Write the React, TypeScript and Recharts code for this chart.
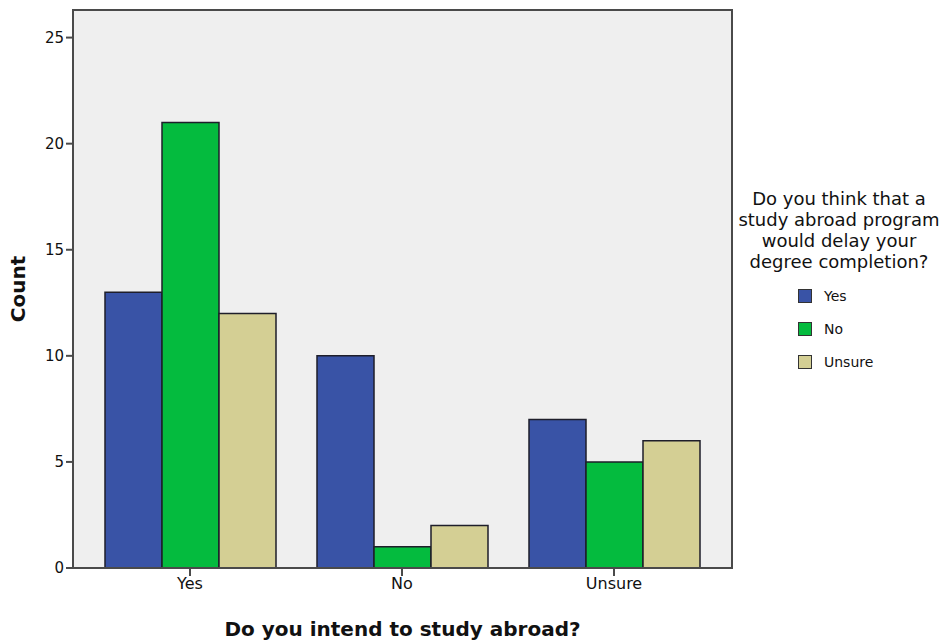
import { BarChart, Bar, XAxis, YAxis, CartesianGrid } from "recharts";

const intents = ["Yes", "No", "Unsure"];
const delayYes = [13, 10, 7];
const delayNo = [21, 1, 5];
const delayUnsure = [12, 2, 6];
const yTicks = [0, 5, 10, 15, 20, 25];

const legendTitle = [
  "Do you think that a",
  "study abroad program",
  "would delay your",
  "degree completion?",
];
const seriesNames = ["Yes", "No", "Unsure"];
const seriesKeys = ["yes", "no", "unsure"];
const seriesColors = ["#3953a6", "#04bb3e", "#d4cf94"];

const data = intents.map((cat, i) => ({
  cat,
  yes: delayYes[i],
  no: delayNo[i],
  unsure: delayUnsure[i],
}));

const FONT = "'DejaVu Sans', Verdana, sans-serif";
const AXIS = "#4a4a4a";

function LegendBox() {
  return (
    <div style={{ position: "absolute", left: 736, top: 188, width: 206, fontFamily: FONT, color: "#111" }}>
      <div style={{ textAlign: "center", fontSize: 18, lineHeight: "21px" }}>
        {legendTitle.map((t) => (
          <div key={t}>{t}</div>
        ))}
      </div>
      <div style={{ marginTop: 7, marginLeft: 62 }}>
        {seriesNames.map((name, i) => (
          <div key={name} style={{ display: "flex", alignItems: "center", height: 33, fontSize: 14 }}>
            <span
              style={{
                width: 12,
                height: 12,
                background: seriesColors[i],
                border: "1.5px solid #333",
                marginRight: 12,
              }}
            />
            {name}
          </div>
        ))}
      </div>
    </div>
  );
}

export default function App() {
  return (
    <div style={{ position: "absolute", left: 0, top: 0, width: 951, height: 642, background: "#fff" }}>
      <BarChart
        width={951}
        height={642}
        data={data}
        margin={{ top: 10, right: 219, bottom: 0, left: 0 }}
        barCategoryGap={21}
        barGap={0}
      >
        <CartesianGrid horizontal={false} vertical={false} fill="#efefef" />
        <XAxis
          dataKey="cat"
          height={74}
          padding={{ left: 11, right: 12 }}
          tickLine={{ stroke: AXIS, strokeWidth: 2 }}
          tickSize={8}
          axisLine={{ stroke: AXIS, strokeWidth: 2 }}
          tick={{ fill: "#111", fontSize: 16, fontFamily: FONT }}
          label={{
            value: "Do you intend to study abroad?",
            position: "insideBottom",
            offset: 6,
            style: { fill: "#111", fontSize: 20, fontWeight: "bold", fontFamily: FONT },
          }}
        />
        <YAxis
          width={73}
          domain={[0, 26.3]}
          ticks={yTicks}
          interval={0}
          allowDataOverflow
          tickLine={{ stroke: AXIS, strokeWidth: 2 }}
          tickSize={7}
          axisLine={{ stroke: AXIS, strokeWidth: 2 }}
          tick={{ fill: "#111", fontSize: 15, fontFamily: FONT }}
          label={{
            value: "Count",
            angle: -90,
            position: "insideLeft",
            offset: 18,
            style: { fill: "#111", fontSize: 20, fontWeight: "bold", fontFamily: FONT, textAnchor: "middle" },
          }}
        />
        {seriesKeys.map((k, i) => (
          <Bar
            key={k}
            dataKey={k}
            name={seriesNames[i]}
            fill={seriesColors[i]}
            stroke="#1e1e2a"
            strokeWidth={1.5}
            isAnimationActive={false}
          />
        ))}
      </BarChart>
      {/* plot frame */}
      <div
        style={{
          position: "absolute",
          left: 72,
          top: 9,
          width: 659,
          height: 558,
          border: `2px solid ${AXIS}`,
          borderLeft: "none",
          borderBottom: "none",
          pointerEvents: "none",
        }}
      />
      <LegendBox />
    </div>
  );
}
